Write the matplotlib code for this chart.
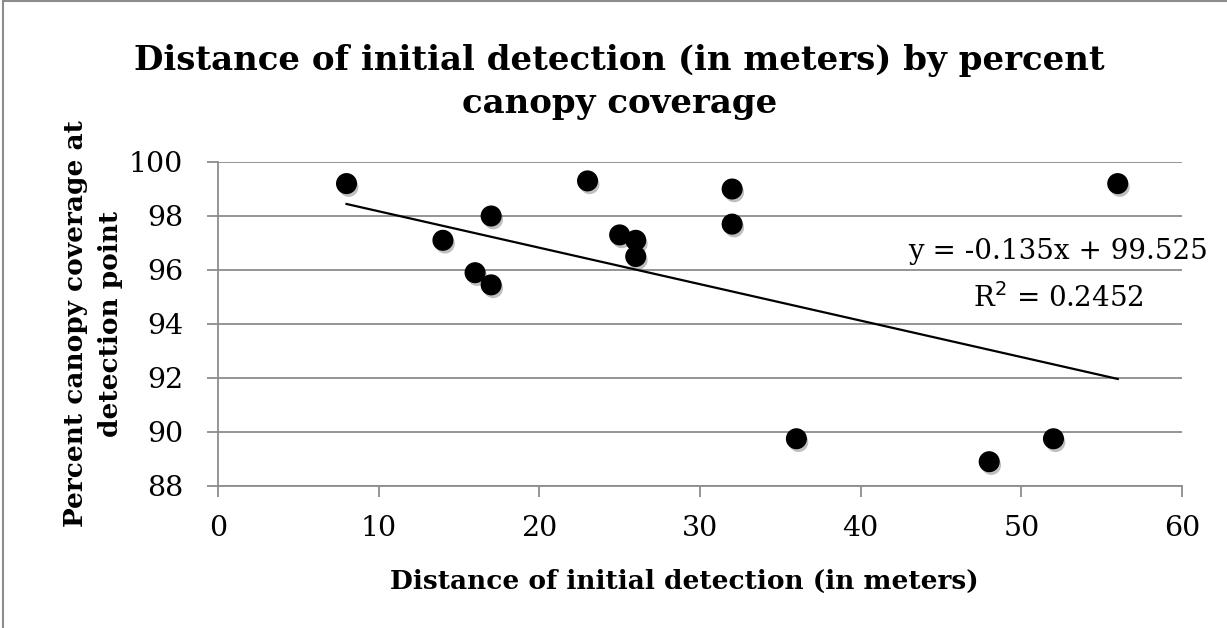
import numpy as np
import matplotlib.pyplot as plt
import matplotlib.patheffects as pe
from matplotlib.lines import Line2D

# data
distance = [8, 14, 16, 17, 17, 23, 25, 26, 26, 32, 32, 36, 48, 52, 56]
canopy = [99.2, 97.1, 95.9, 98.0, 95.45, 99.3, 97.3, 97.1, 96.5, 99.0, 97.7, 89.75, 88.9, 89.75, 99.2]

# linear trendline as printed on the chart
trend_slope = -0.135
trend_intercept = 99.525
trend_eq = "y = -0.135x + 99.525"
trend_r2 = "R$^2$ = 0.2452"

x_ticks = [0, 10, 20, 30, 40, 50, 60]
y_ticks = [88, 90, 92, 94, 96, 98, 100]

title = "Distance of initial detection (in meters) by percent\ncanopy coverage"
xlab = "Distance of initial detection (in meters)"
ylab = "Percent canopy coverage at\ndetection point"

plt.rcParams['font.family'] = ['DejaVu Serif']
grid_col = '#8c8c8c'

fig = plt.figure(figsize=(12.27, 6.28), dpi=100)
ax = fig.add_axes([218 / 1227, 1 - 486 / 628, 964 / 1227, 324 / 628])

ax.scatter(distance, canopy, s=200, c='black', zorder=3,
           path_effects=[pe.SimplePatchShadow(offset=(1.5, -2.5), alpha=0.25), pe.Normal()])

xs = np.array([min(distance), max(distance)])
ax.plot(xs, trend_slope * xs + trend_intercept, color='black', lw=1.6, zorder=2)

ax.set_xlim(0, 60)
ax.set_ylim(88, 100)
ax.set_xticks(x_ticks)
ax.set_yticks(y_ticks)
ax.yaxis.grid(True, color=grid_col, lw=1.3)
ax.set_axisbelow(True)
for s in ['top', 'right']:
    ax.spines[s].set_visible(False)
for s in ['left', 'bottom']:
    ax.spines[s].set_color(grid_col)
    ax.spines[s].set_linewidth(1.3)
ax.tick_params(axis='both', direction='out', length=8, width=1.3, color=grid_col,
               labelsize=20.5)
ax.tick_params(axis='x', pad=13)
ax.tick_params(axis='y', pad=17)

ax.text(52.3, 96.67, trend_eq, ha='center', va='center', fontsize=20)
ax.text(52.3, 94.95, trend_r2, ha='center', va='center', fontsize=20)

fig.text(0.505, 1 - 82 / 628, title, ha='center', va='center', fontsize=24.5,
         fontweight='bold', linespacing=1.42)
fig.text(684 / 1227, 1 - 581 / 628, xlab, ha='center', va='center', fontsize=19,
         fontweight='bold')
fig.text(93 / 1227, 1 - 324 / 628, ylab, ha='center', va='center', fontsize=19,
         fontweight='bold', rotation=90, linespacing=1.5)

# chart area border (left and top edges visible)
fig.add_artist(Line2D([3 / 1227, 3 / 1227], [0, 1 - 1 / 628], transform=fig.transFigure,
                      color=grid_col, lw=1.5))
fig.add_artist(Line2D([3 / 1227, 1], [1 - 1 / 628, 1 - 1 / 628], transform=fig.transFigure,
                      color=grid_col, lw=1.5))

fig.savefig('out.png', dpi=100)
